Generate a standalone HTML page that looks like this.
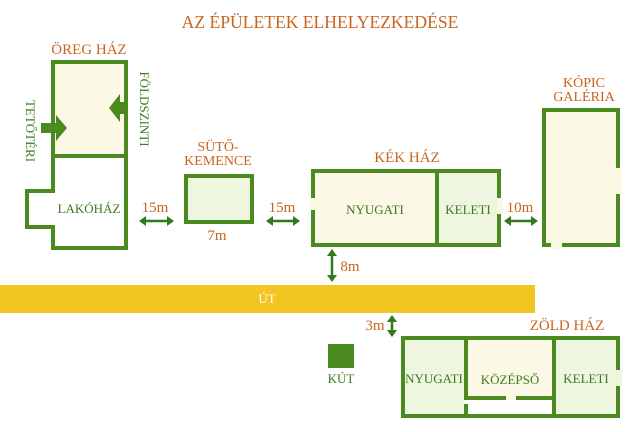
<!DOCTYPE html><html><head><meta charset="utf-8"><style>body{margin:0;background:#fff}svg{display:block}text{font-family:"Liberation Serif",serif}</style></head><body>
<svg width="640" height="432" viewBox="0 0 640 432">
<g font-size="15" fill="#c8641e" text-anchor="middle">
<text x="320" y="28" font-size="17.6">AZ ÉPÜLETEK ELHELYEZKEDÉSE</text>
<text x="89" y="54">ÖREG HÁZ</text>
<text x="218" y="151" font-size="14">SÜTŐ-</text><text x="218" y="165" font-size="14">KEMENCE</text>
<text x="217" y="240">7m</text>
<text x="155" y="212">15m</text><text x="282" y="212">15m</text>
<text x="407" y="162">KÉK HÁZ</text>
<text x="584" y="87" font-size="14">KÓPIC</text><text x="584" y="101" font-size="14">GALÉRIA</text>
<text x="520" y="212">10m</text>
<text x="350" y="271">8m</text>
<text x="375" y="330">3m</text>
<text x="567" y="330">ZÖLD HÁZ</text>
</g>
<rect x="0" y="285" width="535" height="28" fill="#f2c522"/>
<text x="267" y="303" font-size="13" fill="#fff" text-anchor="middle">ÚT</text>
<g stroke="#4a8a1f" stroke-width="4" fill="none">
<path d="M53 156V191H27V227H53V248H126V156" fill="#fff"/>
<rect x="53" y="62" width="73" height="94" fill="#fbf8e6"/>
<rect x="186" y="176" width="66" height="46" fill="#eef6e0"/>
<rect x="313" y="171" width="124" height="74" fill="#fbf8e6"/>
<rect x="437" y="171" width="62" height="74" fill="#eef6e0"/>
<rect x="544" y="110" width="74" height="135" fill="#fbf8e6"/>
<rect x="403" y="338" width="63" height="78" fill="#eef6e0"/>
<rect x="466" y="338" width="88" height="60" fill="#fbf8e6"/>
<path d="M466 398V416H554V398" />
<rect x="554" y="338" width="64" height="78" fill="#eef6e0"/>
</g>
<g fill="#fbf8e6"><rect x="310" y="198" width="6" height="12"/><rect x="497" y="198" width="6" height="16"/><rect x="616" y="168" width="6" height="26"/><rect x="551" y="243" width="11" height="6"/><rect x="506" y="396" width="10" height="5"/></g>
<rect x="616" y="370" width="6" height="16" fill="#eef6e0"/>
<rect x="468" y="400" width="84" height="14" fill="#fff"/>
<rect x="464" y="400" width="4" height="4" fill="#fff"/>
<rect x="328" y="344" width="26" height="24" fill="#4a8a1f"/>
<g fill="#4a8a1f">
<path d="M41 123H56V115L67 128L56 141V133H41Z"/>
<path d="M126 102H120V94L109 108L120 122V114H126Z"/>
</g>
<g stroke="#2f7a1e" stroke-width="2.5" fill="#2f7a1e">
<line x1="144" y1="221" x2="169" y2="221"/><line x1="271" y1="221" x2="295" y2="221"/><line x1="509" y1="221" x2="533" y2="221"/>
<line x1="332" y1="254" x2="332" y2="277"/><line x1="392" y1="319" x2="392" y2="333"/>
</g>
<g fill="#2f7a1e">
<path d="M139 221l7-5v10zM174 221l-7-5v10zM266 221l7-5v10zM300 221l-7-5v10zM504 221l7-5v10zM538 221l-7-5v10z"/>
<path d="M332 249l-5 7h10zM332 282l-5-7h10zM392 315l-5 7h10zM392 337l-5-7h10z"/>
</g>
<g font-size="13" fill="#3b7a1e" text-anchor="middle">
<text x="89" y="213">LAKÓHÁZ</text>
<text x="375" y="214">NYUGATI</text>
<text x="468" y="214">KELETI</text>
<text x="434" y="383">NYUGATI</text>
<text x="510" y="384">KÖZÉPSŐ</text>
<text x="586" y="383">KELETI</text>
<text x="341" y="383">KÚT</text>
<text transform="translate(26,131) rotate(90)">TETŐTÉRI</text>
<text transform="translate(140,109) rotate(90)">FÖLDSZINTI</text>
</g>
</svg></body></html>
